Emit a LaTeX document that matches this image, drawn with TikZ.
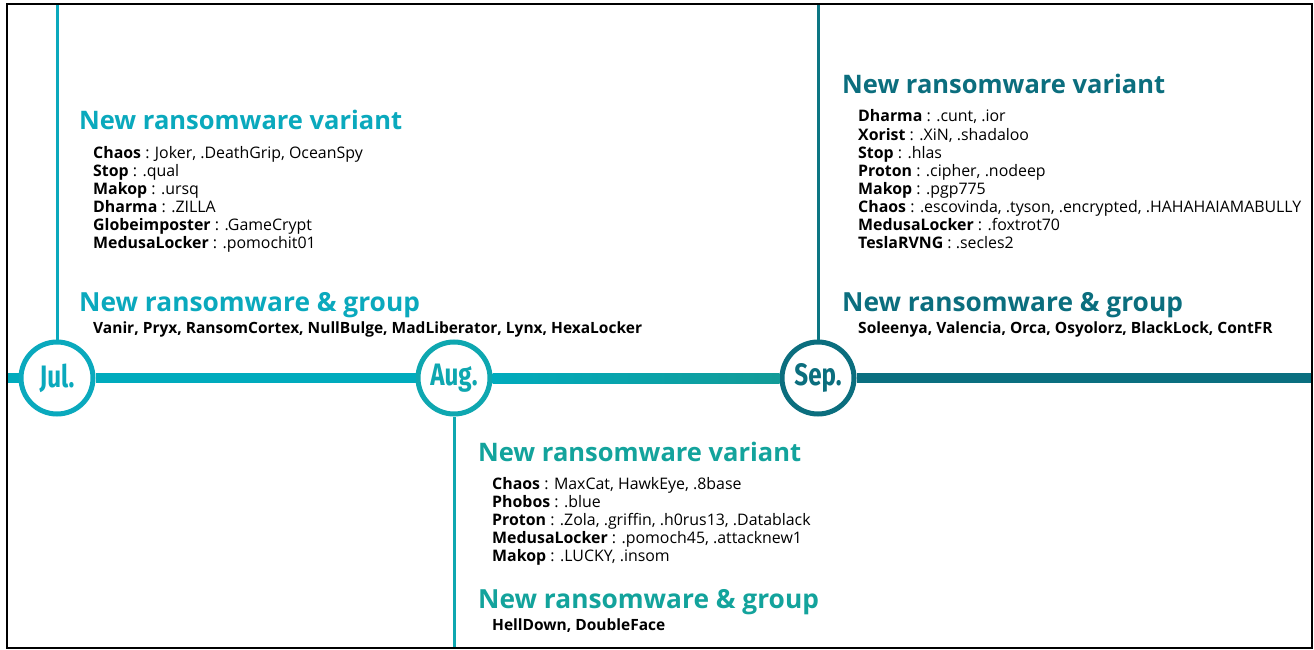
\documentclass[tikz,border=0pt]{standalone}
\usepackage{fontspec}
\setmainfont{Open Sans}
\newfontfamily\monthfont[FakeStretch=0.78]{Fira Sans}
\usetikzlibrary{calc}
\definecolor{julc}{HTML}{0AA9BD}
\definecolor{augc}{HTML}{13A39C}
\definecolor{sepc}{HTML}{0B6E7E}
\definecolor{jullinec}{HTML}{00ABBD}
\definecolor{seplinec}{HTML}{0A6F80}
\tikzset{
  x=1pt, y=-1pt,
  frame/.style={draw=black, line width=2pt},
  stem/.style={line width=3pt},
  rail/.style={line width=10pt},
  month/.style={circle, draw=white, fill=white, line width=5pt, minimum size=72pt, inner sep=0pt,
    font=\monthfont\bfseries\fontsize{31}{31}\selectfont},
  head/.style={anchor=base west, inner sep=0pt, font=\bfseries\fontsize{25.5}{26}\selectfont},
  grouphead/.style={anchor=base west, inner sep=0pt, font=\bfseries\fontsize{26.3}{27}\selectfont},
  item/.style={anchor=base west, inner sep=0pt, font=\fontsize{15.9}{18}\selectfont},
  grp/.style={anchor=base west, inner sep=0pt, font=\bfseries\fontsize{15.5}{18}\selectfont},
}
\begin{document}
\begin{tikzpicture}
\useasboundingbox (0,0) rectangle (1314,650);
\fill[white] (0,0) rectangle (1314,650);

% month markers on the timeline
\coordinate (railL) at (7,378);
\coordinate (railR) at (1312,378);
\node[month, draw=julc, text=julc] (jul) at (57,378) {Jul.};
\node[month, draw=julc!60!augc, text=julc!60!augc] (aug) at (454,378) {Aug.};
\node[month, draw=sepc, text=sepc] (sep) at (818,378) {Sep.};

% timeline rail
\draw[rail, jullinec] (railL) -- (jul.west);
\draw[rail, jullinec] (jul.east) -- (aug.west);
\shade[left color=jullinec, right color=augc!85!sepc] ($(aug.east)+(0,-5)$) rectangle ($(sep.west)+(0,5)$);
\draw[rail, seplinec] (sep.east) -- (railR);

% stems to the top and bottom edges
\coordinate (julTop) at (57,4);
\coordinate (sepTop) at (818,4);
\coordinate (augBot) at (454,648);
\draw[stem, julc] (julTop) -- (jul.north);
\draw[stem, sepc!85!augc] (sepTop) -- (sep.north);
\draw[stem, julc!60!augc] (aug.south) -- (augBot);

% July
\node[head, text=julc] (julH1) at (79,130) {New ransomware variant};
\node[item] (jul1) at (93,158) {\textbf{Chaos} : Joker, .DeathGrip, OceanSpy};
\node[item] (jul2) at (93,176) {\textbf{Stop} : .qual};
\node[item] (jul3) at (93,194) {\textbf{Makop} : .ursq};
\node[item] (jul4) at (93,212) {\textbf{Dharma} : .ZILLA};
\node[item] (jul5) at (93,230) {\textbf{Globeimposter} : .GameCrypt};
\node[item] (jul6) at (93,248) {\textbf{MedusaLocker} : .pomochit01};
\node[grouphead, text=julc] (julH2) at (79,311) {New ransomware \& group};
\node[grp] (julG) at (93,333) {Vanir, Pryx, RansomCortex, NullBulge, MadLiberator, Lynx, HexaLocker};

% August
\node[head, text=augc] (augH1) at (478,461) {New ransomware variant};
\node[item] (aug1) at (492,489) {\textbf{Chaos} : MaxCat, HawkEye, .8base};
\node[item] (aug2) at (492,507) {\textbf{Phobos} : .blue};
\node[item] (aug3) at (492,525) {\textbf{Proton} : .Zola, .griffin, .h0rus13, .Datablack};
\node[item] (aug4) at (492,543) {\textbf{MedusaLocker} : .pomoch45, .attacknew1};
\node[item] (aug5) at (492,561) {\textbf{Makop} : .LUCKY, .insom};
\node[grouphead, text=augc] (augH2) at (478,608) {New ransomware \& group};
\node[grp] (augG) at (492,630) {HellDown, DoubleFace};

% September
\node[head, text=sepc] (sepH1) at (842,94) {New ransomware variant};
\node[item] (sep1) at (858,122) {\textbf{Dharma} : .cunt, .ior};
\node[item] (sep2) at (858,140) {\textbf{Xorist} : .XiN, .shadaloo};
\node[item] (sep3) at (858,158) {\textbf{Stop} : .hlas};
\node[item] (sep4) at (858,176) {\textbf{Proton} : .cipher, .nodeep};
\node[item] (sep5) at (858,194) {\textbf{Makop} : .pgp775};
\node[item] (sep6) at (858,212) {\textbf{Chaos} : .escovinda, .tyson, .encrypted, .HAHAHAIAMABULLY};
\node[item] (sep7) at (858,230) {\textbf{MedusaLocker} : .foxtrot70};
\node[item] (sep8) at (858,248) {\textbf{TeslaRVNG} : .secles2};
\node[grouphead, text=sepc] (sepH2) at (842,311) {New ransomware \& group};
\node[grp] (sepG) at (858,333) {Soleenya, Valencia, Orca, Osyolorz, BlackLock, ContFR};

% outer frame
\draw[frame] (7,4.5) rectangle (1312,648);
\end{tikzpicture}
\end{document}
